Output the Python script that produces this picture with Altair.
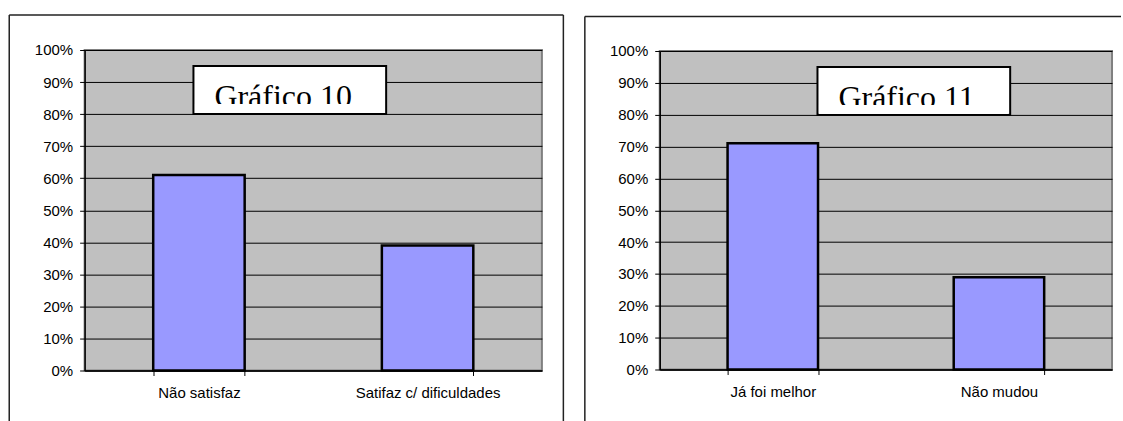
import altair as alt
import pandas as pd

# Survey results shown as two side-by-side bar charts
cats_10 = ["Não satisfaz", "Satifaz c/ dificuldades"]
vals_10 = [0.61, 0.39]
cats_11 = ["Já foi melhor", "Não mudou"]
vals_11 = [0.71, 0.29]
titles = ["Gráfico 10", "Gráfico 11"]
y_ticks = [0, 0.1, 0.2, 0.3, 0.4, 0.5, 0.6, 0.7, 0.8, 0.9, 1.0]

BAR = "#9999FF"
SERIF = "Liberation Serif"
SANS = "Liberation Sans"

Y_AXIS = alt.Axis(
    values=y_ticks, format=".0%", grid=True, labelOverlap=False,
    gridColor="black", gridWidth=1, gridOpacity=1,
    tickSize=5, labelPadding=7, domainWidth=1.5, labelFontSize=15,
)
Y_SCALE = alt.Scale(domain=[0, 1])


def panel(cats, vals, title, w, h, box_x, text_x, frame):
    df = pd.DataFrame({"cat": cats, "val": vals})
    one = pd.DataFrame({"t": [title]})

    x = alt.X(
        "cat:N", sort=cats, title=None,
        scale=alt.Scale(paddingInner=0.6, paddingOuter=0.3),
        axis=alt.Axis(labelAngle=0, tickBand="extent", grid=False,
                      tickSize=5, labelPadding=10, domainWidth=1.5),
    )
    y = alt.Y("val:Q", title=None, scale=Y_SCALE, axis=Y_AXIS)

    bars = alt.Chart(df).mark_bar(
        color=BAR, stroke="black", strokeWidth=2.5
    ).encode(x=x, y=y)

    # title box sitting over the upper grid band
    box = alt.Chart(one).mark_rect(
        fill="white", stroke="black", strokeWidth=2
    ).encode(
        x=alt.value(box_x[0]), x2=alt.value(box_x[1]),
        y=alt.Y(datum=0.95, type="quantitative", title=None,
                scale=Y_SCALE, axis=Y_AXIS),
        y2=alt.datum(0.80),
    )
    label = alt.Chart(one).mark_text(
        font=SERIF, fontSize=32, align="left", baseline="alphabetic",
        color="black",
    ).encode(x=alt.value(text_x), y=alt.value(57), text="t:N")
    # the text box crops the bottom of its caption
    cover = alt.Chart(one).mark_rect(fill="white").encode(
        x=alt.value(box_x[0] + 1.5), x2=alt.value(box_x[1] - 1.5),
        y=alt.value(54), y2=alt.value(63),
    )

    fx0, fx1, fy0, fy1, right_side = frame
    rules = [
        alt.Chart(one).mark_rule(color="#222", strokeWidth=1.5).encode(
            x=alt.value(fx0), x2=alt.value(fx1), y=alt.value(fy0)),
        alt.Chart(one).mark_rule(color="#222", strokeWidth=1.5).encode(
            x=alt.value(fx0), y=alt.value(fy0), y2=alt.value(fy1)),
    ]
    if right_side:
        rules.append(
            alt.Chart(one).mark_rule(color="#222", strokeWidth=1.5).encode(
                x=alt.value(fx1), y=alt.value(fy0), y2=alt.value(fy1)))

    return alt.layer(*rules, bars, box, label, cover).properties(
        width=w, height=h
    )


left = panel(cats_10, vals_10, titles[0], 458, 321,
             (109, 302), 130, (-75.5, 479.5, -35, 372, True))
right = panel(cats_11, vals_11, titles[1], 453, 319,
              (158, 351), 179, (-75, 462, -34.5, 371, False))

chart = alt.hconcat(
    left, right, spacing=118, bounds="flush", center=True
).properties(
    padding={"left": 6.75, "top": 12.75, "right": 0, "bottom": 0},
    background="white",
).configure_view(
    fill="#C0C0C0", stroke="#808080", strokeWidth=2
).configure_axis(
    labelFont=SANS, labelFontSize=15, labelColor="black",
    domainColor="black", tickColor="black",
)

chart.save("out.html", embed_options={"renderer": "svg", "actions": False})
